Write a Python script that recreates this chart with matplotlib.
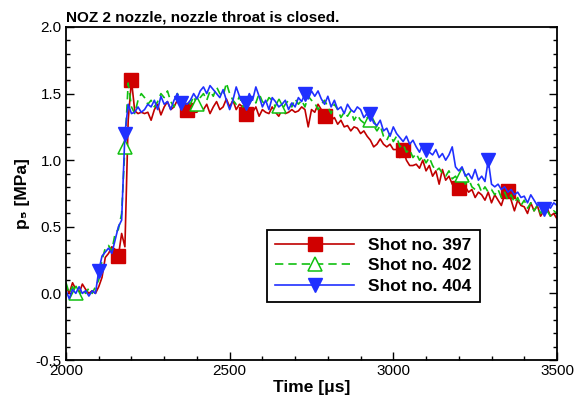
import numpy as np
import matplotlib
matplotlib.use("Agg")
import matplotlib.pyplot as plt
from matplotlib.ticker import MultipleLocator

plt.rcParams['font.family'] = ['Liberation Sans', 'DejaVu Sans']

# time base, 10 us steps
time = np.arange(2000, 3501, 10)

p_397 = [0.05, 0.00, 0.08, 0.03, 0.00, 0.07, 0.03, 0.00, 0.02, 0.00,
         0.05, 0.12, 0.27, 0.30, 0.35, 0.33, 0.28, 0.45, 0.35, 1.30,
         1.60, 1.37, 1.35, 1.36, 1.35, 1.36, 1.30, 1.38, 1.42, 1.34,
         1.40, 1.44, 1.38, 1.40, 1.45, 1.42, 1.38, 1.38, 1.33, 1.36,
         1.36, 1.40, 1.38, 1.42, 1.35, 1.40, 1.44, 1.38, 1.40, 1.46,
         1.40, 1.45, 1.38, 1.42, 1.40, 1.35, 1.37, 1.36, 1.40, 1.33,
         1.38, 1.36, 1.35, 1.40, 1.36, 1.33, 1.38, 1.35, 1.36, 1.38,
         1.36, 1.37, 1.40, 1.38, 1.25, 1.38, 1.36, 1.42, 1.38, 1.33,
         1.35, 1.30, 1.32, 1.27, 1.30, 1.25, 1.26, 1.22, 1.25, 1.24,
         1.20, 1.22, 1.18, 1.15, 1.10, 1.12, 1.16, 1.12, 1.10, 1.12,
         1.08, 1.08, 1.02, 1.08, 1.00, 0.96, 0.96, 0.97, 0.94, 1.00,
         0.92, 0.96, 0.88, 0.92, 0.82, 0.93, 0.85, 0.88, 0.82, 0.80,
         0.79, 0.78, 0.80, 0.76, 0.78, 0.72, 0.76, 0.74, 0.70, 0.76,
         0.68, 0.74, 0.70, 0.66, 0.74, 0.77, 0.70, 0.62, 0.70, 0.66,
         0.65, 0.60, 0.68, 0.62, 0.66, 0.58, 0.62, 0.64, 0.58, 0.60,
         0.56]

p_402 = [0.08, 0.00, 0.05, 0.00, -0.02, 0.03, 0.00, 0.04, 0.00, 0.05,
         0.10, 0.25, 0.34, 0.36, 0.32, 0.45, 0.48, 0.60, 1.10, 1.58,
         1.40, 1.35, 1.45, 1.50, 1.47, 1.42, 1.45, 1.40, 1.44, 1.50,
         1.47, 1.52, 1.44, 1.40, 1.50, 1.46, 1.42, 1.45, 1.42, 1.48,
         1.42, 1.47, 1.50, 1.45, 1.52, 1.48, 1.55, 1.50, 1.48, 1.58,
         1.50, 1.45, 1.42, 1.48, 1.40, 1.45, 1.42, 1.47, 1.43, 1.50,
         1.44, 1.42, 1.47, 1.45, 1.40, 1.41, 1.38, 1.42, 1.45, 1.40,
         1.46, 1.42, 1.45, 1.40, 1.48, 1.45, 1.43, 1.38, 1.42, 1.45,
         1.40, 1.35, 1.42, 1.38, 1.32, 1.36, 1.33, 1.37, 1.30, 1.34,
         1.30, 1.28, 1.32, 1.30, 1.26, 1.22, 1.26, 1.18, 1.15, 1.20,
         1.14, 1.18, 1.10, 1.12, 1.06, 1.08, 1.02, 1.05, 1.00, 1.03,
         0.98, 1.02, 0.96, 0.92, 0.94, 0.90, 0.88, 0.92, 0.86, 0.88,
         0.84, 0.89, 0.82, 0.86, 0.80, 0.78, 0.82, 0.76, 0.80, 0.76,
         0.78, 0.74, 0.78, 0.72, 0.76, 0.70, 0.74, 0.68, 0.72, 0.66,
         0.70, 0.64, 0.68, 0.62, 0.66, 0.60, 0.64, 0.62, 0.58, 0.62,
         0.60]

p_404 = [0.02, -0.04, 0.03, 0.00, 0.05, 0.00, 0.02, -0.02, 0.02, 0.00,
         0.17, 0.28, 0.31, 0.34, 0.30, 0.40, 0.50, 0.55, 1.20, 1.42,
         1.35, 1.36, 1.40, 1.36, 1.38, 1.42, 1.40, 1.45, 1.38, 1.48,
         1.42, 1.44, 1.38, 1.45, 1.50, 1.43, 1.43, 1.42, 1.45, 1.50,
         1.46, 1.52, 1.55, 1.50, 1.56, 1.53, 1.50, 1.47, 1.53, 1.45,
         1.38, 1.45, 1.55, 1.48, 1.43, 1.43, 1.50, 1.45, 1.55, 1.48,
         1.40, 1.45, 1.38, 1.47, 1.44, 1.40, 1.42, 1.45, 1.38, 1.43,
         1.40, 1.47, 1.44, 1.50, 1.46, 1.52, 1.48, 1.52, 1.46, 1.42,
         1.48, 1.40, 1.45, 1.38, 1.40, 1.35, 1.42, 1.38, 1.36, 1.40,
         1.38, 1.32, 1.35, 1.35, 1.28, 1.26, 1.30, 1.22, 1.24, 1.18,
         1.25, 1.20, 1.17, 1.14, 1.18, 1.12, 1.15, 1.10, 1.06, 1.12,
         1.08, 1.06, 1.04, 1.08, 1.02, 1.05, 1.00, 1.04, 1.10, 0.95,
         0.92, 0.95, 0.88, 0.90, 0.86, 0.93, 0.85, 0.88, 0.84, 1.00,
         0.82, 0.80, 0.82, 0.78, 0.80, 0.76, 0.78, 0.74, 0.76, 0.72,
         0.73, 0.68, 0.74, 0.70, 0.66, 0.68, 0.63, 0.67, 0.64, 0.68,
         0.66]

# times where the symbols sit
marks_397 = [2160, 2200, 2370, 2550, 2790, 3030, 3200, 3350]
marks_402 = [2030, 2180, 2400, 2650, 2930, 3210]
marks_404 = [2100, 2180, 2350, 2550, 2730, 2930, 3100, 3290, 3460]


def idx(ts):
    return [int((t - 2000) // 10) for t in ts]


fig = plt.figure(figsize=(5.82, 4.0), dpi=100)
ax = fig.add_axes([0.1134, 0.1, 0.8436, 0.8325])

ax.plot(time, p_397, color='#c00000', lw=1.2, marker='s', ms=9.5,
        mfc='#d00000', mec='#d00000', markevery=idx(marks_397),
        label='Shot no. 397')
ax.plot(time, p_402, color='#10c010', lw=1.2, ls=(0, (5, 3)), marker='^',
        ms=10, mfc='white', mec='#10c010', mew=1.1,
        markevery=idx(marks_402), label='Shot no. 402')
ax.plot(time, p_404, color='#2030ff', lw=1.2, marker='v', ms=10,
        mfc='#2030ff', mec='#2030ff', markevery=idx(marks_404),
        label='Shot no. 404')

ax.set_xlim(2000, 3500)
ax.set_ylim(-0.5, 2.0)
ax.xaxis.set_major_locator(MultipleLocator(500))
ax.xaxis.set_minor_locator(MultipleLocator(100))
ax.yaxis.set_major_locator(MultipleLocator(0.5))
ax.yaxis.set_minor_locator(MultipleLocator(0.1))
ax.yaxis.set_major_formatter(plt.FormatStrFormatter('%.1f'))
ax.tick_params(which='both', direction='in', right=True, top=False,
               labelsize=11, width=1.0)
ax.tick_params(which='major', length=6, pad=3)
ax.tick_params(which='minor', length=3)
for s in ax.spines.values():
    s.set_linewidth(1.3)

ax.set_xlabel('Time [μs]', fontsize=12.5, fontweight='bold', labelpad=1)
ax.set_ylabel('p₅ [MPa]', fontsize=12.5, fontweight='bold', labelpad=4)
ax.set_title('NOZ 2 nozzle, nozzle throat is closed.', loc='left',
             fontsize=11, fontweight='bold', pad=4)

leg = ax.legend(loc='upper left', bbox_to_anchor=(0.409, 0.39),
                borderaxespad=0, fancybox=False, framealpha=1,
                edgecolor='black', handlelength=4.6, handletextpad=0.8,
                labelspacing=0.3, borderpad=0.45,
                prop={'weight': 'bold', 'size': 12.5})
leg.get_frame().set_linewidth(1.3)

fig.savefig('out.png', dpi=100)
